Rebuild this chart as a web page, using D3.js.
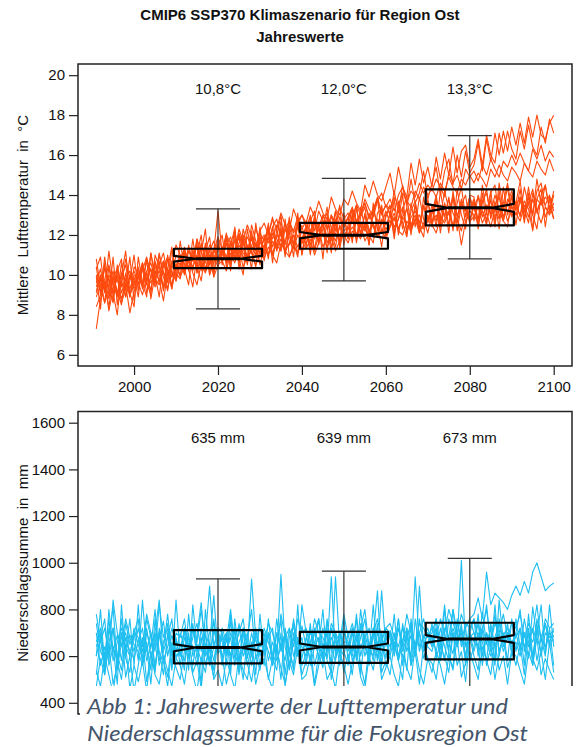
<!DOCTYPE html>
<html>
<head>
<meta charset="utf-8">
<script src="https://cdn.jsdelivr.net/npm/d3@7"></script>
<style>
  body { margin: 0; background: #fff; }
  svg { display: block; }
  text { font-family: "Liberation Sans", Arial, Helvetica, sans-serif; fill: #111; }
</style>
</head>
<body>
<svg id="chart" width="584" height="747"></svg>
<script>
// ---- data (years 1991..2100, one value per year) ----
const firstYear = 1991;
const lastYear = 2100;

const tempTicksY = [6, 8, 10, 12, 14, 16, 18, 20];
const precTicksY = [400, 600, 800, 1000, 1200, 1400, 1600];
const yearTicks = [2000, 2020, 2040, 2060, 2080, 2100];

const periodCenters = [2020, 2050, 2080];
const tempLabels = ['10,8°C', '12,0°C', '13,3°C'];
const precLabels = ['635 mm', '639 mm', '673 mm'];

// box statistics
const tempWhiskLo = [8.3, 9.7, 10.8];
const tempQ1 = [10.34, 11.31, 12.48];
const tempConfLo = [10.67, 11.83, 13.16];
const tempMedian = [10.81, 11.99, 13.36];
const tempConfHi = [10.95, 12.15, 13.56];
const tempQ3 = [11.31, 12.61, 14.28];
const tempWhiskHi = [13.31, 14.83, 16.97];

const precWhiskLo = [350, 360, 370];
const precQ1 = [569, 571, 586];
const precConfLo = [621, 624, 657];
const precMedian = [637, 639, 673];
const precConfHi = [651, 654, 690];
const precQ3 = [711, 704, 743];
const precWhiskHi = [931, 964, 1019];

// temperature ensemble members
const temp1 = [9.1,9.8,8.6,9.4,10.2,9.0,9.7,8.9,10.0,9.6,
  10.3,9.5,10.1,9.2,10.6,10.0,9.4,10.8,9.9,10.4,
  10.9,10.2,10.7,11.2,10.1,10.8,11.4,10.5,11.0,10.6,
  11.3,10.7,11.6,10.9,11.1,11.8,10.6,11.4,11.0,11.7,
  11.2,11.9,11.0,11.6,12.2,11.3,11.5,12.0,11.1,11.8,
  12.4,11.5,12.1,11.7,12.6,11.9,12.2,11.4,12.5,12.0,
  12.3,12.9,11.8,12.6,12.2,13.1,12.4,11.9,12.8,12.5,
  13.0,12.4,12.8,13.4,12.2,12.9,13.2,12.6,13.5,12.7,
  13.1,13.8,12.7,13.4,13.0,14.0,12.9,13.6,13.2,13.9,
  13.3,12.8,13.7,14.1,13.0,13.5,13.9,12.9,13.6,14.2,
  13.4,13.9,12.9,13.6,14.3,13.1,13.8,13.5,14.0,13.2];
const temp2 = [7.3,8.8,9.6,8.4,9.9,9.2,8.5,10.1,9.0,9.5,
  9.8,10.4,9.1,9.9,10.7,9.6,10.2,9.3,10.5,10.0,
  10.4,11.0,10.3,10.8,11.5,10.2,10.9,10.6,11.3,10.7,
  11.0,11.6,10.5,11.2,11.9,10.8,11.5,11.1,10.9,11.6,
  11.4,11.0,12.1,11.5,11.2,12.3,11.7,11.3,12.0,11.6,
  11.8,12.3,11.2,12.0,12.6,11.6,12.1,12.7,11.5,12.2,
  12.4,11.8,12.7,12.1,13.0,12.3,11.9,12.8,12.5,13.2,
  12.6,13.1,12.3,12.9,13.3,12.5,13.0,12.2,13.4,12.8,
  13.2,12.7,13.5,12.9,13.8,13.1,12.6,13.6,13.3,12.8,
  13.4,13.9,12.9,13.5,13.1,14.0,13.3,12.7,13.8,13.4,
  13.0,13.7,13.3,12.6,14.1,13.2,13.8,12.9,13.5,12.8];
const temp3 = [9.6,10.3,9.1,9.9,8.7,10.5,9.4,9.8,10.2,9.3,
  9.9,10.6,9.7,10.3,9.5,11.0,10.1,9.8,10.7,10.2,
  10.6,10.1,11.2,10.8,10.4,11.6,10.9,10.5,11.3,10.8,
  11.4,10.9,11.7,11.2,12.0,11.3,10.8,11.9,11.5,11.1,
  11.8,12.3,11.4,12.0,11.7,12.6,11.9,11.5,12.4,12.1,
  12.3,11.9,12.8,12.2,12.6,13.1,12.4,12.0,12.9,12.5,
  12.8,13.3,12.6,13.0,13.6,12.8,13.2,13.9,13.1,13.5,
  13.0,14.2,13.1,14.5,13.4,14.8,13.6,14.1,15.2,13.8,
  14.6,15.4,14.0,15.2,15.8,14.5,16.0,14.9,16.2,15.1,
  15.5,16.6,15.2,16.8,15.7,17.1,16.0,17.2,16.2,17.4,
  16.5,17.6,16.6,17.9,16.9,18.0,17.0,16.8,17.6,18.0];
const temp4 = [10.0,9.2,9.8,10.5,9.5,9.0,10.1,9.7,8.9,10.4,
  10.1,9.6,10.8,10.2,9.7,10.5,11.1,10.0,10.6,10.3,
  11.0,10.5,11.4,10.7,11.8,11.1,10.6,11.5,11.2,11.9,
  11.3,12.0,11.6,11.2,12.3,11.7,12.5,11.9,11.4,12.2,
  12.6,12.0,12.8,12.3,13.1,12.5,12.2,13.3,12.7,13.0,
  12.6,13.4,12.9,13.7,13.1,12.8,13.9,13.3,13.0,13.8,
  13.5,14.2,13.6,13.2,14.5,13.9,14.7,14.0,13.7,14.4,
  15.1,14.0,15.4,14.4,13.9,15.6,14.5,15.8,14.6,15.4,
  14.4,15.9,14.8,16.1,15.0,16.4,15.1,16.2,16.5,15.4,
  15.8,16.8,15.5,17.0,16.0,15.6,17.1,16.1,17.2,16.3,
  15.8,17.2,16.3,17.5,16.4,16.0,17.4,16.6,17.8,17.1];
const temp5 = [9.4,10.0,9.3,8.8,9.9,10.3,9.5,10.8,9.8,10.2,
  9.6,10.2,10.9,9.8,10.4,10.1,10.7,10.3,9.9,11.0,
  10.8,11.3,10.6,11.0,10.4,11.5,10.9,11.2,11.7,10.8,
  11.2,11.8,11.3,10.9,12.1,11.5,11.9,11.4,12.3,11.7,
  12.0,11.6,12.4,12.8,11.9,12.3,12.7,12.1,12.5,13.0,
  12.4,12.9,12.2,13.2,12.7,12.3,13.0,12.6,13.4,12.8,
  13.1,12.7,13.5,13.0,13.8,13.3,12.9,13.7,14.1,13.4,
  13.8,13.2,14.0,14.4,13.6,14.2,13.9,14.6,14.1,14.5,
  14.2,14.8,14.4,13.9,15.1,14.6,15.0,14.3,15.3,14.9,
  15.2,14.7,15.5,15.0,15.8,15.3,14.9,15.7,15.4,16.0,
  15.5,16.1,15.6,15.2,16.3,15.8,16.5,15.7,16.2,15.9];
const temp6 = [8.9,9.5,10.3,9.7,9.1,10.0,8.6,9.3,9.9,9.5,
  10.0,9.4,10.2,10.6,9.8,9.5,10.4,10.9,10.1,9.7,
  10.5,11.1,10.3,10.9,11.4,10.7,10.2,11.0,10.6,11.3,
  11.0,11.5,11.9,11.1,11.6,12.0,11.3,11.8,11.2,12.1,
  11.7,12.2,11.8,12.5,12.0,11.6,12.6,12.2,12.9,12.3,
  12.7,12.1,12.9,12.4,13.0,12.5,12.2,13.2,12.8,12.4,
  12.9,13.4,12.7,13.1,13.6,12.9,13.3,13.8,13.0,13.5,
  13.3,13.9,13.5,14.1,13.7,13.4,14.2,13.8,14.4,14.0,
  14.3,13.9,14.6,14.2,14.9,14.4,14.1,14.8,14.5,15.0,
  14.6,15.1,14.8,14.4,15.3,14.9,15.5,15.0,14.7,15.4,
  15.1,14.7,15.6,15.2,14.9,15.7,15.3,15.0,15.8,15.2];
const temp7 = [10.4,9.0,10.9,9.3,8.6,10.2,10.8,8.9,9.7,11.0,
  9.2,10.6,9.5,11.1,10.0,8.9,10.7,9.6,11.3,10.1,
  9.8,11.4,10.3,9.4,11.0,12.0,10.2,11.3,9.9,11.6,
  10.6,11.9,10.2,12.1,10.8,10.0,12.3,11.1,10.4,12.0,
  11.0,12.4,10.6,12.3,11.2,12.8,10.9,11.5,12.6,11.0,
  12.1,13.0,11.2,12.6,10.8,12.9,11.7,13.2,11.3,12.4,
  12.9,11.6,13.4,12.0,13.1,11.5,13.6,12.2,13.5,12.0,
  12.4,13.8,12.0,13.2,14.0,12.3,13.5,12.1,13.9,12.6,
  13.5,12.4,14.2,12.9,13.9,12.2,14.3,13.0,12.3,14.0,
  13.9,12.7,14.5,13.1,14.2,12.6,14.6,13.3,14.4,12.9,
  13.6,14.7,13.1,14.4,13.0,14.8,13.5,14.5,13.2,14.2];
const temp8 = [10.8,9.4,8.6,10.4,9.1,8.0,10.0,11.2,8.9,9.9,
  8.9,10.6,9.6,9.0,11.0,10.4,9.2,10.3,11.4,9.7,
  11.7,10.3,9.5,11.3,10.1,11.1,12.3,10.0,10.6,11.9,
  10.5,11.9,10.7,12.4,10.3,11.6,10.9,12.5,11.7,10.5,
  11.4,12.6,11.0,11.9,13.0,11.1,12.2,10.9,12.7,11.6,
  12.5,11.2,12.9,11.6,12.3,13.4,11.3,12.6,11.7,13.1,
  11.8,12.9,13.5,11.9,12.6,11.5,13.1,13.8,12.1,12.9,
  13.5,12.2,12.8,14.0,12.0,13.2,13.7,12.5,12.3,13.8,
  12.6,13.8,12.9,14.2,13.3,12.3,13.6,14.4,12.9,13.9,
  12.7,14.0,13.2,12.5,14.1,14.5,12.9,13.6,14.6,13.3,
  13.7,12.9,14.4,13.5,13.0,14.2,14.6,13.4,13.1,14.0];
const temp9 = [8.4,9.0,9.7,8.2,9.3,9.8,8.8,9.5,8.1,9.2,
  9.6,9.0,9.9,10.3,9.4,9.8,8.7,10.1,9.5,10.6,
  9.9,10.4,10.8,10.1,9.5,10.6,10.3,11.0,9.9,10.5,
  10.7,10.2,11.1,10.6,11.3,10.4,10.9,11.2,10.5,11.0,
  10.8,11.4,11.0,10.6,11.6,11.2,10.9,11.5,11.1,11.7,
  11.3,11.8,11.0,11.6,12.1,11.4,11.9,11.2,11.7,12.0,
  11.6,12.2,11.9,12.5,11.7,12.1,12.6,11.9,12.3,11.8,
  12.4,12.9,12.2,12.0,12.7,12.3,12.8,12.1,12.6,13.0,
  12.5,12.1,12.9,12.6,13.2,12.4,12.8,12.2,13.1,12.7,
  12.9,13.4,12.6,13.1,12.4,13.3,12.8,13.5,12.7,13.2,
  13.1,12.7,13.5,12.9,13.8,13.2,12.6,13.4,13.0,13.6];
const temp10 = [10.3,10.9,9.2,11.2,9.6,8.9,10.6,9.4,10.9,8.7,
  10.4,9.3,10.8,8.8,10.0,11.1,9.9,9.2,10.6,11.5,
  11.0,10.0,11.5,10.2,11.8,10.3,11.6,10.0,11.2,13.2,
  11.0,12.1,10.5,11.8,10.7,12.3,11.4,10.3,12.6,11.2,
  11.9,10.8,12.4,11.2,12.7,11.5,12.9,11.6,10.9,12.5,
  11.4,12.7,13.2,11.6,12.6,11.1,13.0,12.2,13.5,11.5,
  12.5,13.3,11.8,13.4,12.3,11.9,13.2,12.6,11.4,13.1,
  13.2,12.0,13.7,12.6,11.9,13.6,12.4,13.9,12.8,12.1,
  13.1,14.0,12.5,13.6,12.1,14.2,12.9,13.8,12.6,13.3,
  13.8,12.4,13.6,14.3,12.8,13.7,12.3,14.4,13.0,14.0,
  13.2,14.3,12.8,13.9,13.0,12.3,14.0,14.5,13.3,13.4];
const temp11 = [9.9,8.3,10.6,8.9,10.9,8.5,9.9,10.5,9.1,8.4,
  10.9,9.6,8.9,11.1,9.7,10.7,9.3,11.0,9.3,10.5,
  10.0,11.3,10.2,11.8,10.4,9.7,11.2,11.9,10.1,11.4,
  12.0,10.4,11.5,12.3,10.6,11.9,10.5,12.2,10.9,12.4,
  10.7,12.0,12.9,11.2,12.4,10.9,12.5,11.4,13.1,11.0,
  12.5,11.0,12.7,11.5,13.0,12.4,11.1,12.8,11.6,13.0,
  11.8,13.1,11.6,12.9,13.4,12.0,11.6,13.1,13.3,11.9,
  13.2,11.8,13.5,12.3,13.4,12.0,13.6,12.4,11.9,13.7,
  12.4,13.8,12.1,13.6,12.5,13.9,12.2,13.5,14.0,12.5,
  13.7,12.3,14.1,12.6,13.8,12.4,14.2,12.7,12.4,14.0,
  12.5,13.9,12.6,14.1,12.3,13.8,14.3,12.4,13.9,12.8];
const temp12 = [9.2,9.9,9.4,10.0,9.6,10.2,9.1,9.8,9.3,10.0,
  9.8,10.3,10.0,9.6,10.2,9.7,10.6,10.1,9.3,10.5,
  10.6,10.1,10.7,10.4,11.0,10.5,10.1,10.7,10.9,10.4,
  11.2,10.6,11.3,10.8,11.5,11.1,10.8,11.3,11.6,11.0,
  11.5,11.0,11.7,11.3,11.8,11.2,11.6,12.0,11.4,11.9,
  11.6,12.1,11.8,12.3,11.4,11.9,12.2,11.7,12.4,11.9,
  12.0,12.4,12.1,11.8,12.6,12.2,12.5,12.0,12.7,12.3,
  12.5,12.8,12.3,12.9,12.5,12.2,12.8,13.0,12.4,12.7,
  12.6,13.0,12.4,12.8,13.1,12.5,12.9,11.5,12.7,13.2,
  13.0,12.6,13.2,12.8,13.4,12.9,13.3,12.7,13.6,13.1,
  13.4,13.0,13.7,13.3,12.2,13.8,13.5,13.9,13.6,14.0];

// precipitation ensemble members (mm)
const prec1 = [740,620,580,690,810,560,650,700,600,720,
  650,590,760,680,540,700,630,780,610,670,
  600,720,650,560,690,830,620,580,710,640,
  680,610,750,590,660,700,560,640,720,600,
  650,700,580,760,620,690,540,680,610,730,
  640,590,710,660,580,750,620,690,560,700,
  660,620,780,600,680,560,720,640,700,590,
  710,650,580,740,620,690,600,760,650,700,
  640,720,580,800,660,610,740,680,590,760,
  700,620,790,650,720,580,840,660,700,620,
  760,640,700,590,810,680,620,740,660,710];
const prec2 = [520,680,760,560,640,480,820,590,530,700,
  760,560,640,480,700,840,580,510,660,590,
  630,540,780,600,650,480,800,620,540,720,
  590,700,520,760,610,500,680,800,590,630,
  560,760,600,650,500,720,620,540,820,560,
  610,740,560,640,800,580,530,700,610,760,
  580,640,760,520,700,610,820,590,680,560,
  620,780,580,660,540,760,610,700,590,650,
  740,590,660,820,600,550,760,640,720,580,
  640,780,560,700,620,820,600,700,580,760,
  620,720,560,780,600,680,820,610,720,560];
const prec3 = [660,720,540,800,620,690,580,740,650,700,
  580,840,620,700,560,680,750,600,690,620,
  700,640,590,720,620,680,560,650,860,610,
  640,700,580,680,730,600,650,560,700,640,
  700,580,660,610,950,640,560,700,620,680,
  560,720,640,680,600,760,630,580,700,650,
  620,700,580,740,650,600,680,880,560,700,
  680,600,720,640,700,560,760,620,690,640,
  620,700,660,580,760,680,640,720,600,700,
  660,740,600,700,640,780,620,690,720,650,
  700,620,760,660,600,720,680,740,640,690];
const prec4 = [600,680,520,720,640,580,760,610,690,650,
  620,560,700,640,800,580,660,720,540,680,
  560,680,620,740,590,660,700,560,640,720,
  700,620,680,560,740,650,590,700,620,660,
  620,680,720,580,640,700,600,760,650,590,
  680,620,700,760,640,590,720,660,610,700,
  640,720,600,680,760,620,700,580,660,720,
  700,640,760,620,680,720,650,700,760,680,
  720,680,760,700,800,740,690,780,720,760,
  780,850,760,960,820,870,850,830,800,860,
  900,860,920,870,960,1000,940,880,900,913];
const prec5 = [700,560,640,580,720,610,540,680,620,590,
  660,720,580,640,700,560,620,680,760,600,
  620,580,680,640,560,720,600,660,580,700,
  560,680,600,720,580,640,700,600,680,560,
  680,620,560,700,640,580,720,600,660,640,
  600,660,720,580,640,700,560,940,640,600,
  700,580,640,720,600,660,580,700,640,680,
  640,700,600,660,720,580,640,700,620,660,
  680,620,720,640,580,700,660,1010,640,700,
  620,700,660,580,740,640,700,620,680,640,
  660,600,700,640,720,580,680,640,700,660];
const prec6 = [470,590,520,650,480,560,700,510,600,450,
  560,680,490,610,530,720,580,470,640,550,
  500,620,700,530,580,460,650,590,510,680,
  600,480,560,720,520,640,570,490,610,540,
  660,500,590,540,700,470,620,560,680,520,
  580,650,480,610,550,720,500,590,640,530,
  610,520,690,560,480,640,600,740,530,580,
  520,660,580,500,720,560,620,480,650,590,
  570,500,640,600,530,700,560,620,490,680,
  600,540,720,560,640,500,610,680,550,620,
  560,650,520,700,590,540,620,500,660,530];
const prec7 = [780,660,720,600,840,700,640,760,680,620,
  720,640,780,700,620,820,680,740,600,700,
  680,760,620,720,660,800,640,700,740,620,
  720,660,800,640,700,760,620,930,680,720,
  660,740,700,620,780,680,720,640,760,700,
  720,640,760,700,680,620,740,700,660,780,
  680,740,660,720,800,640,700,760,680,720,
  740,680,720,660,780,700,640,740,720,680,
  700,760,640,720,680,800,700,660,740,720,
  760,680,720,800,660,740,700,780,680,740,
  720,780,680,740,700,820,660,760,720,740];
const prec8 = [540,470,600,520,440,580,500,650,460,560,
  490,580,450,620,520,480,600,540,470,590,
  560,480,610,520,450,590,530,660,500,540,
  470,590,520,460,600,540,500,620,480,560,
  590,510,460,630,550,480,580,520,640,500,
  520,600,470,560,620,500,540,460,610,560,
  480,570,620,510,460,600,540,660,500,550,
  600,520,470,610,550,500,640,540,480,590,
  530,620,560,480,600,540,680,510,570,620,
  560,500,640,580,520,660,540,600,480,620,
  600,540,480,620,560,680,520,590,540,500];
const prec9 = [640,700,600,760,580,660,720,640,600,700,
  680,620,720,600,660,700,580,640,720,660,
  640,700,600,680,740,620,680,900,640,700,
  660,600,700,640,580,720,660,620,700,640,
  720,660,600,700,640,680,620,740,600,660,
  640,700,660,600,720,640,680,620,700,660,
  660,600,700,640,680,720,620,660,600,700,
  600,680,640,720,660,600,940,640,680,720,
  660,720,600,680,640,720,660,700,640,680,
  700,640,720,660,600,680,740,640,700,660,
  680,720,640,700,660,740,600,700,680,720];
const prec10 = [600,800,560,660,720,540,700,620,760,560,
  820,580,660,540,760,620,520,700,560,840,
  600,720,540,820,640,580,700,560,760,620,
  700,560,780,620,540,720,600,660,520,780,
  600,700,560,620,760,520,680,740,600,820,
  700,560,640,760,580,620,940,600,700,620,
  560,720,600,800,640,580,720,620,880,640,
  700,620,760,560,680,740,600,900,640,700,
  640,760,580,700,620,800,640,740,560,700,
  760,600,700,820,640,560,760,660,740,600,
  700,800,620,720,560,760,680,600,820,640];

const tempSeries = [temp1, temp2, temp3, temp4, temp5, temp6, temp7, temp8, temp9, temp10, temp11, temp12];
const precSeries = [prec1, prec2, prec3, prec4, prec5, prec6, prec7, prec8, prec9, prec10];

// ---- layout ----
const svg = d3.select('#chart');
const left = 78, right = 572;
const xPad = (lastYear - firstYear) * 0.04;
const x = d3.scaleLinear().domain([firstYear - xPad, lastYear + xPad]).range([left, right]);

const boxHalf = 10.5; // years
const fontSize = 15;

function drawPanel({ top, bottom, ylim, ticks, series, color, stats, labels, labelY, xAxis }) {
  const pad = (ylim[1] - ylim[0]) * 0.04;
  const y = d3.scaleLinear().domain([ylim[0] - pad, ylim[1] + pad]).range([bottom, top]);
  const g = svg.append('g');

  const line = d3.line()
    .x((d, i) => x(firstYear + i))
    .y(d => y(d));

  g.selectAll('path.member')
    .data(series)
    .enter()
    .append('path')
    .attr('class', 'member')
    .attr('d', line)
    .attr('fill', 'none')
    .attr('stroke', color)
    .attr('stroke-width', 1.1)
    .attr('stroke-linejoin', 'round');

  // notched boxes
  periodCenters.forEach((c, i) => {
    const x0 = x(c - boxHalf), x1 = x(c + boxHalf), xc = x(c);
    const w = x1 - x0;
    // whisker
    g.append('line')
      .attr('x1', xc).attr('x2', xc)
      .attr('y1', y(stats.lo[i])).attr('y2', y(stats.hi[i]))
      .attr('stroke', '#333').attr('stroke-width', 1.2);
    [stats.lo[i], stats.hi[i]].forEach(v => {
      g.append('line')
        .attr('x1', xc - w / 4).attr('x2', xc + w / 4)
        .attr('y1', y(v)).attr('y2', y(v))
        .attr('stroke', '#333').attr('stroke-width', 1.2);
    });
    const pts = [
      [-0.5, stats.q1[i]], [0.5, stats.q1[i]], [0.5, stats.cLo[i]], [0.25, stats.med[i]],
      [0.5, stats.cHi[i]], [0.5, stats.q3[i]], [-0.5, stats.q3[i]], [-0.5, stats.cHi[i]],
      [-0.25, stats.med[i]], [-0.5, stats.cLo[i]]
    ];
    g.append('path')
      .attr('d', d3.line()(pts.map(p => [xc + p[0] * w, y(p[1])])) + 'Z')
      .attr('fill', 'none')
      .attr('stroke', '#000')
      .attr('stroke-width', 2.2)
      .attr('stroke-linejoin', 'round');
    g.append('line')
      .attr('x1', xc - w / 4).attr('x2', xc + w / 4)
      .attr('y1', y(stats.med[i])).attr('y2', y(stats.med[i]))
      .attr('stroke', '#000').attr('stroke-width', 3);

    g.append('text')
      .attr('x', xc).attr('y', labelY)
      .attr('text-anchor', 'middle')
      .style('font-size', fontSize + 'px')
      .text(labels[i]);
  });

  // frame
  g.append('rect')
    .attr('x', left).attr('y', top)
    .attr('width', right - left).attr('height', bottom - top)
    .attr('fill', 'none').attr('stroke', '#222').attr('stroke-width', 1.5);

  const ya = g.append('g')
    .attr('transform', `translate(${left},0)`)
    .call(d3.axisLeft(y).tickValues(ticks).tickSize(9).tickPadding(4).tickFormat(d3.format('d')));
  ya.select('.domain').remove();
  ya.selectAll('line').attr('stroke', '#222').attr('stroke-width', 1.2);
  ya.selectAll('text').style('font-size', fontSize + 'px').attr('fill', '#111');

  if (xAxis) {
    const xa = g.append('g')
      .attr('transform', `translate(0,${bottom})`)
      .call(d3.axisBottom(x).tickValues(yearTicks).tickSize(9).tickPadding(6).tickFormat(d3.format('d')));
    xa.select('.domain').remove();
    xa.selectAll('line').attr('stroke', '#222').attr('stroke-width', 1.2);
    xa.selectAll('text').style('font-size', fontSize + 'px').attr('fill', '#111');
  }
  return y;
}

drawPanel({
  top: 64, bottom: 366, ylim: [6, 20], ticks: tempTicksY, series: tempSeries,
  color: '#ff4a0e',
  stats: { lo: tempWhiskLo, q1: tempQ1, cLo: tempConfLo, med: tempMedian, cHi: tempConfHi, q3: tempQ3, hi: tempWhiskHi },
  labels: tempLabels, labelY: 94, xAxis: true
});

drawPanel({
  top: 411.5, bottom: 714, ylim: [400, 1600], ticks: precTicksY, series: precSeries,
  color: '#1ebef0',
  stats: { lo: precWhiskLo, q1: precQ1, cLo: precConfLo, med: precMedian, cHi: precConfHi, q3: precQ3, hi: precWhiskHi },
  labels: precLabels, labelY: 443, xAxis: false
});

// y axis titles
svg.append('text')
  .attr('transform', 'translate(28,215) rotate(-90)')
  .attr('text-anchor', 'middle')
  .style('font-size', fontSize + 'px')
  .style('white-space', 'pre')
  .text('Mittlere  Lufttemperatur  in  °C');
svg.append('text')
  .attr('transform', 'translate(28,563) rotate(-90)')
  .attr('text-anchor', 'middle')
  .style('font-size', fontSize + 'px')
  .style('white-space', 'pre')
  .text('Niederschlagssumme  in  mm');

// title
svg.append('text')
  .attr('x', 300).attr('y', 20)
  .attr('text-anchor', 'middle')
  .style('font-size', '15px').style('font-weight', 'bold')
  .text('CMIP6 SSP370 Klimaszenario für Region Ost');
svg.append('text')
  .attr('x', 300).attr('y', 42)
  .attr('text-anchor', 'middle')
  .style('font-size', '15px').style('font-weight', 'bold')
  .text('Jahreswerte');

// caption box laid over the lower panel
svg.append('rect')
  .attr('x', 80).attr('y', 686)
  .attr('width', 504).attr('height', 61)
  .attr('fill', '#fff');
const caption = ['Abb 1: Jahreswerte der Lufttemperatur und', 'Niederschlagssumme für die Fokusregion Ost'];
const captionWidth = [421, 441];
caption.forEach((t, i) => {
  svg.append('text')
    .attr('x', 87).attr('y', 714 + i * 27)
    .attr('textLength', captionWidth[i])
    .attr('lengthAdjust', 'spacingAndGlyphs')
    .style('font-family', 'Lato, "Open Sans", sans-serif')
    .style('font-style', 'italic')
    .style('font-size', '22px')
    .style('fill', '#44546a')
    .text(t);
});
</script>
</body>
</html>
